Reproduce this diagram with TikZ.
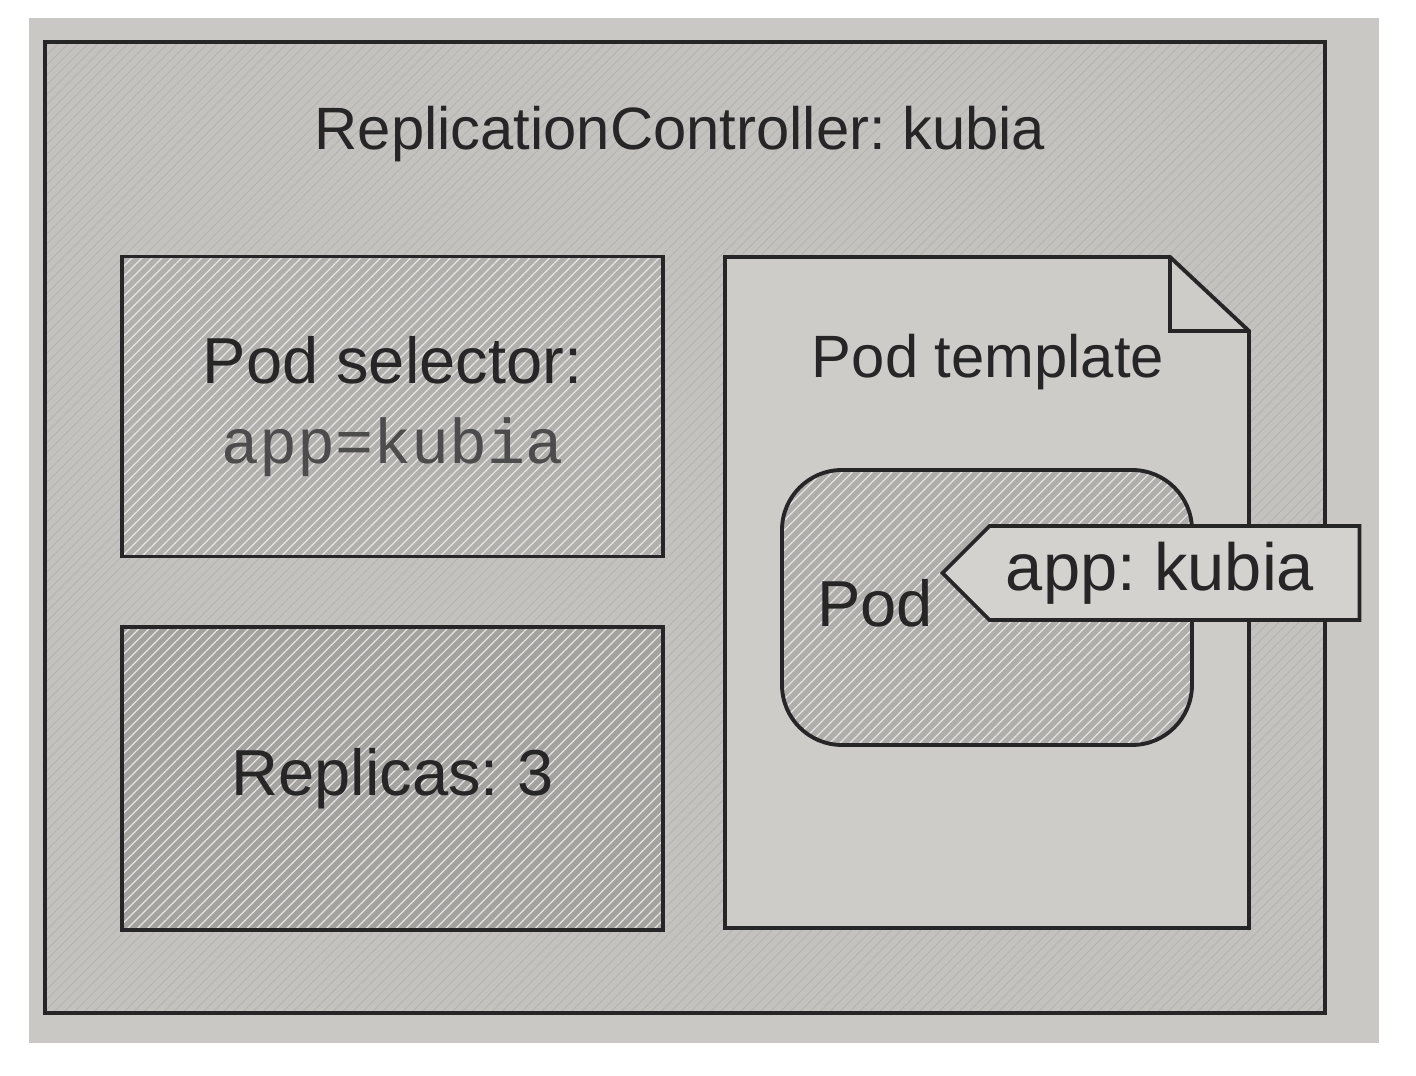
\documentclass[tikz,border=0pt]{standalone}
\usepackage{fontspec}
\setmainfont{Liberation Sans}
\setmonofont{Liberation Mono}
\usepackage{tikz}
\usetikzlibrary{positioning,shapes.symbols,patterns.meta}
\definecolor{photo}{RGB}{202,200,197}
\definecolor{rcfill}{RGB}{196,194,191}
\definecolor{selfill}{RGB}{178,176,173}
\definecolor{repfill}{RGB}{164,162,159}
\definecolor{tmplfill}{RGB}{206,204,201}
\definecolor{podfill}{RGB}{176,174,171}
\definecolor{tagfill}{RGB}{212,210,207}
\frenchspacing

\begin{document}
\begin{tikzpicture}[
  line width=1.1pt,
  text=black!85,
  outline/.style={draw=black!85},
  hatch/.style={preaction={fill=#1}, preaction={pattern={Lines[angle=45,distance=2pt,line width=0.35pt]}, pattern color=black!10}},
  faint/.style={preaction={fill=#1}, preaction={pattern={Lines[angle=45,distance=2pt,line width=0.25pt]}, pattern color=#1!93!black}},
  big/.style={font=\fontsize{17}{25}\selectfont},
  bigger/.style={font=\fontsize{18.5}{25}\selectfont},
  block/.style={outline, bigger, align=center, minimum width=5.41cm, minimum height=3cm}
]
\fill[white] (0,0) rectangle (14.16,10.76);
\useasboundingbox (0,0) rectangle (14.16,10.76);
\fill[photo] (0.29,0.33) rectangle (13.79,10.58);
\draw[outline, faint=rcfill] (0.45,0.63) rectangle (13.25,10.34);
\node[big, anchor=base] (title) at (6.80,9.26) {ReplicationController: kubia};

\node[block, hatch=selfill] (selector) at (3.925,6.695)
  {Pod selector:\\[-2pt]{\ttfamily\fontsize{18}{22}\selectfont\color{black!70}app=kubia}};
\node[block, hatch=repfill, minimum height=3.03cm, below=0.67cm of selector] (replicas) {Replicas: 3};

% pod template sheet with folded corner
\draw[outline, fill=tmplfill] (7.25,8.19) -- (11.70,8.19) -- (12.49,7.45)
  -- (12.49,1.48) -- (7.25,1.48) -- cycle;
\draw[outline] (11.70,8.19) -- (11.70,7.45) -- (12.49,7.45);
\node[big, anchor=base] (template) at (9.88,6.98) {Pod template};

\node[outline, hatch=podfill, rounded corners=0.6cm, minimum width=4.1cm,
  minimum height=2.75cm] (pod) at (9.87,4.685) {};
\node[bigger, anchor=base] (podname) at (8.75,4.49) {Pod};
\node[outline, fill=tagfill, signal, signal to=west, signal pointer angle=90,
  minimum width=4.17cm, minimum height=0.94cm, inner sep=0pt] (tag) at (11.745,5.03) {};
\node[font=\fontsize{19}{22}\selectfont, anchor=base] (tagtext) at (11.60,4.85) {app: kubia};
\end{tikzpicture}
\end{document}
